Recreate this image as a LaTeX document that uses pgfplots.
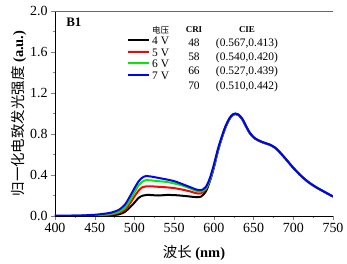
\documentclass[border=0pt]{standalone}
\usepackage{pgfplots}
\pgfplotsset{compat=1.18}
\usepackage{fontspec}
\setmainfont{Liberation Serif}
\newfontfamily\cjk{Noto Sans CJK SC}
\definecolor{cblue}{RGB}{0,0,255}
\definecolor{cred}{RGB}{255,0,0}
\definecolor{cgreen}{RGB}{0,235,0}
\newcommand{\rs}{\rule[-4bp]{0pt}{14bp}}
\begin{document}
\begin{tikzpicture}
\begin{axis}[
  scale only axis, width=278bp, height=205bp,
  xmin=400, xmax=750, ymin=0, ymax=2.0,
  axis x line*=bottom, axis y line*=left,
  xtick={400,450,...,750}, ytick={0,0.4,...,2.0},
  minor x tick num=1, minor y tick num=1,
  tick align=outside, major tick length=4bp, minor tick length=2bp,
  yticklabel style={/pgf/number format/fixed,/pgf/number format/fixed zerofill,/pgf/number format/precision=1},
  /pgf/number format/assume math mode=true,
  tick label style={font=\fontsize{14}{15}\selectfont},
  xlabel={{\cjk 波长} \textbf{(nm)}},
  ylabel={{\cjk 归一化电致发光强度} \textbf{(a.u.)}},
  label style={font=\fontsize{14.5}{15}\selectfont},
  xlabel style={yshift=-6bp},
  ylabel style={yshift=-3bp},
  legend image code/.code={\draw[#1,line width=2bp] (0bp,0bp) -- (21bp,0bp);},
  legend cell align=left,
  legend style={draw=none, fill=none, at={(rel axis cs:0.259,0.9415)}, anchor=north west,
    font=\fontsize{11.5}{13}\selectfont, row sep=0bp, column sep=2bp, inner sep=0bp,
    nodes={inner sep=0bp}},
]
\addlegendimage{empty legend}
\addlegendentry{\rs{\cjk\fontsize{8.5}{9}\selectfont 电压}}
\addplot[black, line width=2bp, smooth] coordinates {
(400,0)(440,0.002)(460,0.004)(470,0.007)(480,0.015)(488,0.04)(495,0.09)(500,0.13)(505,0.175)(510,0.198)(515,0.205)(520,0.205)(530,0.2)(540,0.205)(550,0.204)(560,0.198)(570,0.19)(578,0.184)(584,0.19)(590,0.24)(595,0.34)(600,0.47)(605,0.63)(610,0.76)(615,0.87)(620,0.95)(624,0.985)(627,0.995)(631,0.985)(636,0.94)(640,0.88)(645,0.81)(650,0.765)(655,0.74)(660,0.722)(665,0.708)(670,0.695)(675,0.675)(680,0.645)(690,0.56)(700,0.47)(710,0.39)(720,0.325)(730,0.275)(740,0.232)(750,0.19)};
\addlegendentry{\rs 4 V}
\addplot[cred, line width=2bp, smooth] coordinates {
(400,0)(440,0.003)(460,0.008)(470,0.014)(480,0.03)(488,0.06)(495,0.13)(500,0.19)(505,0.245)(510,0.28)(515,0.29)(520,0.29)(530,0.285)(540,0.28)(550,0.272)(560,0.258)(570,0.24)(578,0.222)(584,0.222)(590,0.26)(595,0.35)(600,0.48)(605,0.635)(610,0.765)(615,0.875)(620,0.952)(624,0.987)(627,0.996)(631,0.986)(636,0.942)(640,0.882)(645,0.812)(650,0.767)(655,0.741)(660,0.723)(665,0.709)(670,0.696)(675,0.676)(680,0.646)(690,0.56)(700,0.47)(710,0.39)(720,0.325)(730,0.275)(740,0.232)(750,0.19)};
\addlegendentry{\rs 5 V}
\addplot[cgreen, line width=2bp, smooth] coordinates {
(400,0)(440,0.005)(460,0.012)(470,0.02)(480,0.04)(488,0.08)(495,0.16)(500,0.23)(505,0.295)(510,0.335)(515,0.35)(520,0.348)(530,0.34)(540,0.333)(550,0.318)(560,0.298)(570,0.27)(578,0.245)(584,0.24)(590,0.27)(595,0.355)(600,0.485)(605,0.64)(610,0.768)(615,0.878)(620,0.955)(624,0.99)(627,0.998)(631,0.988)(636,0.944)(640,0.884)(645,0.814)(650,0.768)(655,0.742)(660,0.724)(665,0.71)(670,0.697)(675,0.677)(680,0.647)(690,0.56)(700,0.47)(710,0.39)(720,0.325)(730,0.275)(740,0.232)(750,0.19)};
\addlegendentry{\rs 6 V}
\addplot[cblue, line width=2bp, smooth] coordinates {
(400,0)(430,0.004)(450,0.012)(460,0.02)(470,0.032)(480,0.058)(488,0.11)(495,0.2)(500,0.27)(505,0.335)(510,0.375)(515,0.39)(520,0.386)(530,0.372)(540,0.357)(550,0.34)(560,0.312)(570,0.282)(578,0.258)(584,0.252)(590,0.285)(595,0.37)(600,0.5)(605,0.65)(610,0.775)(615,0.882)(620,0.958)(624,0.992)(627,1.0)(631,0.99)(636,0.946)(640,0.886)(645,0.816)(650,0.77)(655,0.743)(660,0.725)(665,0.711)(670,0.698)(675,0.678)(680,0.648)(690,0.562)(700,0.47)(710,0.39)(720,0.325)(730,0.275)(740,0.232)(750,0.19)};
\addlegendentry{\rs 7 V}
\draw[black!60, line width=0.6bp] (rel axis cs:0,1) -- (rel axis cs:1,1) -- (rel axis cs:1,0);
\node[anchor=north west, font=\fontsize{13}{14}\selectfont\bfseries, inner sep=0pt] at (rel axis cs:0.04,0.965) {B1};
\begin{scope}[every node/.style={font=\fontsize{11.5}{13}\selectfont, inner sep=0pt, anchor=base}]
\node[font=\fontsize{9}{9}\selectfont\bfseries] at (rel axis cs:0.50,0.8927) {CRI};
\node[font=\fontsize{9}{9}\selectfont\bfseries] at (rel axis cs:0.6906,0.8927) {CIE};
\node at (rel axis cs:0.50,0.8244) {48};
\node at (rel axis cs:0.50,0.7561) {58};
\node at (rel axis cs:0.50,0.6878) {66};
\node at (rel axis cs:0.50,0.6195) {70};
\node at (rel axis cs:0.6906,0.8244) {(0.567,0.413)};
\node at (rel axis cs:0.6906,0.7561) {(0.540,0.420)};
\node at (rel axis cs:0.6906,0.6878) {(0.527,0.439)};
\node at (rel axis cs:0.6906,0.6195) {(0.510,0.442)};
\end{scope}
\end{axis}
\pgfresetboundingbox
\path (current axis.south west) ++(-55bp,-48bp) rectangle ++(347bp,264bp);
\end{tikzpicture}
\end{document}
